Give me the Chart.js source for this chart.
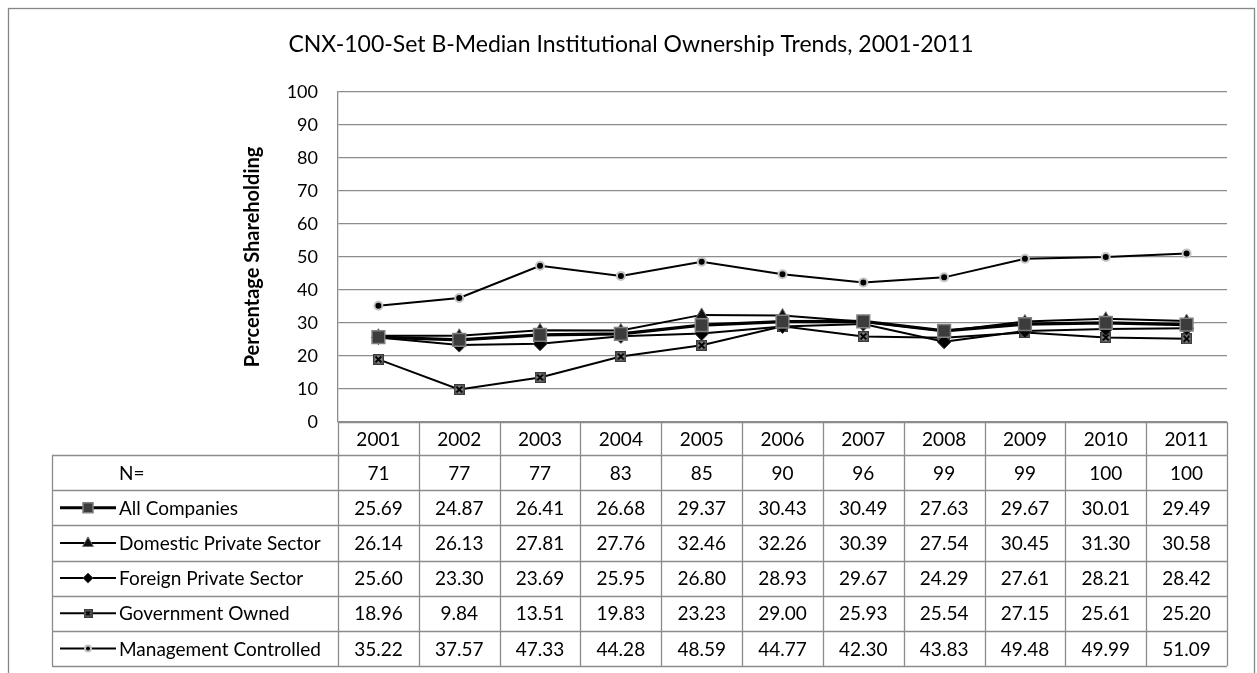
<!DOCTYPE html>
<html>
<head>
<meta charset="utf-8">
<script src="https://cdn.jsdelivr.net/npm/chart.js@4"></script>
<style>
html,body{margin:0;padding:0;background:#fff;}
canvas{display:block;}
</style>
</head>
<body>
<canvas id="c" width="1257" height="673"></canvas>
<script>
const years = ['2001','2002','2003','2004','2005','2006','2007','2008','2009','2010','2011'];
const nValues = [71, 77, 77, 83, 85, 90, 96, 99, 99, 100, 100];
const allCompanies = [25.69, 24.87, 26.41, 26.68, 29.37, 30.43, 30.49, 27.63, 29.67, 30.01, 29.49];
const domesticPrivate = [26.14, 26.13, 27.81, 27.76, 32.46, 32.26, 30.39, 27.54, 30.45, 31.30, 30.58];
const foreignPrivate = [25.60, 23.30, 23.69, 25.95, 26.80, 28.93, 29.67, 24.29, 27.61, 28.21, 28.42];
const governmentOwned = [18.96, 9.84, 13.51, 19.83, 23.23, 29.00, 25.93, 25.54, 27.15, 25.61, 25.20];
const managementControlled = [35.22, 37.57, 47.33, 44.28, 48.59, 44.77, 42.30, 43.83, 49.48, 49.99, 51.09];
const yTicks = [0, 10, 20, 30, 40, 50, 60, 70, 80, 90, 100];
const seriesNames = ['All Companies', 'Domestic Private Sector', 'Foreign Private Sector', 'Government Owned', 'Management Controlled'];
const titleText = 'CNX-100-Set B-Median Institutional Ownership Trends, 2001-2011';
const yTitleText = 'Percentage Shareholding';

const FONT = 'Lato, "Open Sans", sans-serif';
const GRID = '#8c8c8c';

// Government owned marker: square with X
function govMarker(size) {
  const cv = document.createElement('canvas');
  cv.width = size; cv.height = size;
  const g = cv.getContext('2d');
  g.fillStyle = '#8a8a8a';
  g.fillRect(0, 0, size, size);
  g.strokeStyle = '#3a3a3a';
  g.lineWidth = 1.5;
  g.strokeRect(0.75, 0.75, size - 1.5, size - 1.5);
  g.strokeStyle = '#000';
  g.lineWidth = 2;
  g.beginPath();
  g.moveTo(2.5, 2.5); g.lineTo(size - 2.5, size - 2.5);
  g.moveTo(size - 2.5, 2.5); g.lineTo(2.5, size - 2.5);
  g.stroke();
  return cv;
}
const govImg = govMarker(11);

const styles = [
  {pointStyle: 'rect', radius: 9, bg: '#3c3c3c', border: '#808080', bw: 1.5, lw: 3.2},
  {pointStyle: 'triangle', radius: 7, bg: '#111', border: '#6e6e6e', bw: 1, lw: 2},
  {pointStyle: 'rectRot', radius: 7, bg: '#000', border: '#444', bw: 1, lw: 2},
  {pointStyle: govImg, radius: 6, bg: '#888', border: '#333', bw: 1, lw: 2},
  {pointStyle: 'circle', radius: 4, bg: '#000', border: '#c4c4c4', bw: 2, lw: 2}
];
const seriesData = [allCompanies, domesticPrivate, foreignPrivate, governmentOwned, managementControlled];

const datasets = seriesData.map((d, i) => ({
  label: seriesNames[i],
  data: d,
  borderColor: '#000',
  borderWidth: styles[i].lw,
  pointStyle: styles[i].pointStyle,
  pointRadius: styles[i].radius,
  pointHoverRadius: styles[i].radius,
  pointBackgroundColor: styles[i].bg,
  pointBorderColor: styles[i].border,
  pointBorderWidth: styles[i].bw,
  tension: 0,
  fill: false
}));

function drawMarker(ctx, i, x, y) {
  const s = styles[i];
  ctx.save();
  ctx.fillStyle = s.bg;
  ctx.strokeStyle = s.border;
  ctx.lineWidth = s.bw;
  if (i === 0) {
    const h = 5;
    ctx.beginPath(); ctx.rect(x - h, y - h, 2 * h, 2 * h); ctx.fill(); ctx.stroke();
  } else if (i === 1) {
    const r = 6;
    ctx.beginPath();
    ctx.moveTo(x, y - r); ctx.lineTo(x + r * 0.9, y + r * 0.6); ctx.lineTo(x - r * 0.9, y + r * 0.6);
    ctx.closePath(); ctx.fill(); ctx.stroke();
  } else if (i === 2) {
    const r = 5;
    ctx.beginPath();
    ctx.moveTo(x, y - r); ctx.lineTo(x + r, y); ctx.lineTo(x, y + r); ctx.lineTo(x - r, y);
    ctx.closePath(); ctx.fill(); ctx.stroke();
  } else if (i === 3) {
    ctx.drawImage(govMarker(9), x - 4.5, y - 4.5);
  } else {
    ctx.beginPath(); ctx.arc(x, y, 3, 0, Math.PI * 2); ctx.fill(); ctx.stroke();
  }
  ctx.restore();
}

const decorPlugin = {
  id: 'decor',
  beforeDraw(chart) {
    const ctx = chart.ctx;
    const area = chart.chartArea;
    ctx.save();
    ctx.fillStyle = '#fff';
    ctx.fillRect(0, 0, chart.width, chart.height);
    ctx.strokeStyle = '#868686';
    ctx.lineWidth = 1.3;
    ctx.strokeRect(8.5, 8.5, 1246, 700);
    // title
    ctx.fillStyle = '#000';
    ctx.font = '23px ' + FONT;
    ctx.textAlign = 'center';
    ctx.textBaseline = 'middle';
    ctx.fillText(titleText, 631, 45);
    // y title
    ctx.translate(253, (area.top + area.bottom) / 2);
    ctx.rotate(-Math.PI / 2);
    ctx.font = 'bold 20px ' + FONT;
    ctx.fillText(yTitleText, 0, 0);
    ctx.restore();
  },
  afterDraw(chart) {
    const ctx = chart.ctx;
    const area = chart.chartArea;
    const xs = chart.scales.x;
    const n = years.length;
    const colW = area.width / n;
    const tableLeft = 52;
    const headTop = area.bottom;
    const headH = 33;
    const rowTop = headTop + headH;
    const rowH = 35.17;
    const nRows = 6;
    const bottom = rowTop + rowH * nRows;
    ctx.save();
    ctx.strokeStyle = GRID;
    ctx.lineWidth = 1.3;
    ctx.beginPath();
    ctx.moveTo(area.left, headTop + 0.5); ctx.lineTo(area.right, headTop + 0.5);
    for (let r = 0; r <= nRows; r++) {
      const y = Math.round(rowTop + r * rowH) + 0.5;
      ctx.moveTo(tableLeft, y); ctx.lineTo(area.right, y);
    }
    for (let c = 0; c <= n; c++) {
      const x = Math.round(area.left + c * colW) + 0.5;
      ctx.moveTo(x, headTop); ctx.lineTo(x, bottom);
    }
    ctx.moveTo(tableLeft + 0.5, rowTop); ctx.lineTo(tableLeft + 0.5, bottom);
    ctx.stroke();

    ctx.fillStyle = '#000';
    ctx.font = '19px ' + FONT;
    ctx.textAlign = 'center';
    ctx.textBaseline = 'middle';
    years.forEach((yr, c) => {
      const cx = xs.getPixelForValue(c);
      ctx.fillText(yr, cx, headTop + headH / 2 + 1);
      ctx.fillText(String(nValues[c]), cx, rowTop + rowH / 2 + 1);
      seriesData.forEach((d, i) => {
        ctx.fillText(d[c].toFixed(2), cx, rowTop + rowH * (i + 1) + rowH / 2 + 1);
      });
    });
    ctx.textAlign = 'left';
    ctx.fillText('N=', 119, rowTop + rowH / 2 + 1);
    seriesNames.forEach((name, i) => {
      const cy = rowTop + rowH * (i + 1) + rowH / 2;
      ctx.save();
      ctx.strokeStyle = '#000';
      ctx.lineWidth = styles[i].lw;
      ctx.beginPath(); ctx.moveTo(60, cy); ctx.lineTo(116, cy); ctx.stroke();
      ctx.restore();
      drawMarker(ctx, i, 88, cy);
      ctx.fillStyle = '#000';
      ctx.fillText(name, 119, cy + 1);
    });
    ctx.restore();
  }
};

new Chart(document.getElementById('c'), {
  type: 'line',
  data: { labels: years, datasets: datasets },
  options: {
    responsive: false,
    devicePixelRatio: 1,
    animation: false,
    events: [],
    layout: { padding: { top: 92, bottom: 251, left: 0, right: 30 } },
    plugins: { legend: { display: false }, title: { display: false }, tooltip: { enabled: false } },
    scales: {
      x: { display: false, offset: true },
      y: {
        min: 0, max: 100,
        afterFit(scale) { scale.width = 338; },
        afterBuildTicks(scale) { scale.ticks = yTicks.map(v => ({ value: v })); },
        grid: { color: GRID, lineWidth: 1.3, drawTicks: false },
        border: { display: true, color: GRID, width: 1.3 },
        ticks: { padding: 20, color: '#000', font: { family: FONT, size: 18 } }
      }
    }
  },
  plugins: [decorPlugin]
});
</script>
</body>
</html>
